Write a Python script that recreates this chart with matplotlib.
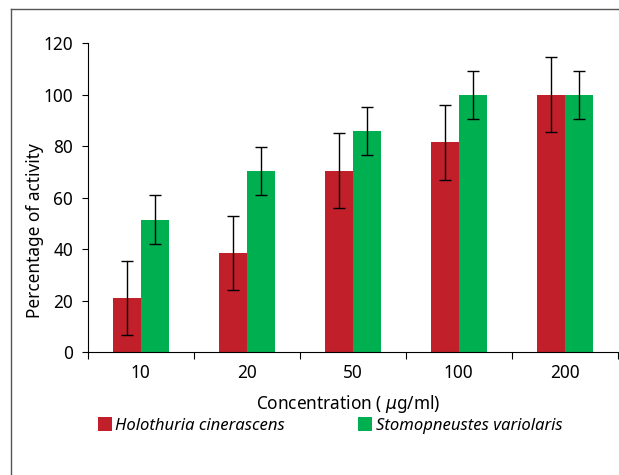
import matplotlib.pyplot as plt
import numpy as np
from matplotlib.patches import Patch
from matplotlib.lines import Line2D

plt.rcParams["font.family"] = ["Noto Sans", "DejaVu Sans"]

concentrations = ["10", "20", "50", "100", "200"]
holothuria = [21, 38.5, 70.5, 81.5, 100]
holothuria_err = [14.5, 14.5, 14.5, 14.5, 14.5]
stomopneustes = [51.5, 70.5, 86, 100, 100]
stomopneustes_err = [9.4, 9.3, 9.4, 9.4, 9.4]

red = "#C1202A"
green = "#00B050"
fs = 12.4

fig = plt.figure(figsize=(6.19, 4.75), dpi=100)
ax = fig.add_axes([0.1417, 0.259, 0.8563, 0.6498])

x = np.arange(len(concentrations))
err_kw = dict(ecolor="black", elinewidth=1, capsize=4.3, capthick=1)
ax.bar(x - 0.13, holothuria, width=0.26, color=red, yerr=holothuria_err,
       error_kw=err_kw, zorder=2)
ax.bar(x + 0.135, stomopneustes, width=0.27, color=green, yerr=stomopneustes_err,
       error_kw=err_kw, zorder=2)

ax.set_xlim(-0.5, len(concentrations) - 0.5)
ax.set_ylim(0, 120)
ax.set_yticks(range(0, 121, 20))
ax.set_xticks(x)
ax.set_xticklabels(concentrations)
ax.set_xticks(np.arange(-0.5, len(concentrations)), minor=True)
ax.tick_params(axis="x", which="major", length=0, labelsize=fs, pad=9)
ax.tick_params(axis="x", which="minor", length=5, width=0.8, direction="out")
ax.tick_params(axis="y", length=4.5, width=0.8, labelsize=fs, pad=6)
for side in ["top", "right"]:
    ax.spines[side].set_visible(False)
for side in ["left", "bottom"]:
    ax.spines[side].set_linewidth(0.8)

ax.set_xlabel("Concentration ( $\\mu$g/ml)", fontsize=fs)
ax.xaxis.set_label_coords(0.491, -0.134)
ax.set_ylabel("Percentage of activity", fontsize=fs)
ax.yaxis.set_label_coords(-0.083, 0.392)

handles = [Patch(facecolor=red), Patch(facecolor=green)]
fig.legend(handles, ["Holothuria cinerascens", "Stomopneustes variolaris"],
           ncol=2, loc="center", bbox_to_anchor=(0.533, 0.104), frameon=False,
           prop={"style": "italic", "size": 12}, handlelength=0.85,
           handleheight=0.85, handletextpad=0.2, columnspacing=4.4)

# outer frame (left and top edges)
fig.add_artist(Line2D([11 / 619, 11 / 619], [0, 1 - 9 / 475], color="#555555", lw=1))
fig.add_artist(Line2D([11 / 619, 1], [1 - 9 / 475, 1 - 9 / 475], color="#555555", lw=1))

fig.savefig("out.png", dpi=100)
